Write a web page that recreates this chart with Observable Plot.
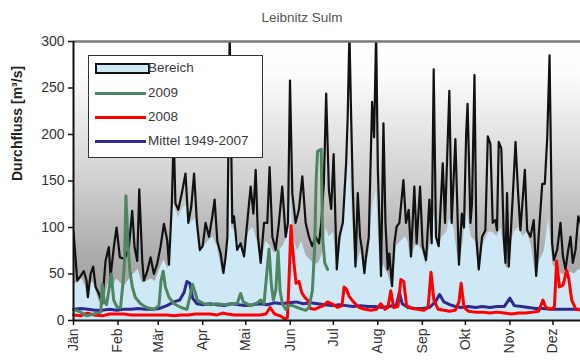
<!DOCTYPE html>
<html>
<head>
<meta charset="utf-8">
<script src="https://cdn.jsdelivr.net/npm/d3@7"></script>
<script src="https://cdn.jsdelivr.net/npm/@observablehq/plot@0.6"></script>
<style>
  html, body { margin: 0; padding: 0; overflow: hidden; background: #fff; }
  #wrap { position: relative; width: 600px; height: 364px; font-family: "Liberation Sans", Arial, sans-serif; }
  #title { position: absolute; left: 0; top: 10px; width: 604px; text-align: center; font-size: 13.5px; color: #555; }
  #legend { position: absolute; left: 88px; top: 55px; width: 173px; height: 101px; background: #fff; border: 1.5px solid #333; }
  .row { position: absolute; left: 0; height: 20px; }
  .sw { position: absolute; left: 6px; width: 51px; }
  .lab { position: absolute; left: 59px; top: 2px; font-size: 13.5px; color: #3a3a3a; white-space: nowrap; }
</style>
</head>
<body>
<div id="wrap">
  <div id="title"></div>
  <div id="chart"></div>
  <div id="legend"></div>
</div>
<script>
// Pegel Leibnitz / Sulm – Tagesdurchfluss [m³/s] über das Kalenderjahr (Tag 0 = 1. Jänner)
const titleText = "Leibnitz Sulm";
const yLabel = "Durchfluss [m³/s]";
const monthNames = ["Jän", "Feb", "Mär", "Apr", "Mai", "Jun", "Jul", "Aug", "Sep", "Okt", "Nov", "Dez"];
const monthStarts = [0, 31, 59, 90, 120, 151, 181, 212, 243, 273, 304, 334];
const yTicks = [0, 50, 100, 150, 200, 250, 300];

const seriesNames = ["Bereich", "2009", "2008", "Mittel 1949-2007"];
const seriesColors = ["#cfe8f6", "#4d8660", "#ff0000", "#2e2990"];

// Bereich: Obergrenze (Höchstwerte) [Tag, m³/s]
const bereichMax = [
  [0,96],[2.6,43],[5,48],[7.2,53],[9.1,43],[10,25],[11.9,50],[13.7,58],[15.4,36],[17.7,29],
  [20,18],[22.3,64],[24.6,79],[25.8,47],[28.1,79],[30,100],[32.3,68],[35.6,66],[38.6,79],[40.9,118],
  [42.5,79],[44.4,64],[45.8,141],[47.9,64],[49,43],[51.4,53],[53.7,68],[56,50],[58.3,61],[60.6,79],
  [63,104],[65.3,86],[66.5,60],[68.5,126],[69.8,200],[71,126],[73,119],[75.5,137],[78,158],[80,105],
  [82,122],[84,158],[86,105],[88,76],[90,80],[92,105],[94.4,90],[96.7,112],[98.3,130],[100.2,85],
  [102.5,72],[104.4,51],[106,69],[107.2,90],[108.8,310],[110.6,105],[111.8,112],[114,76],[116.4,83],[118.8,69],
  [121,105],[123.4,144],[125.3,115],[126.9,162],[128.5,90],[130.4,62],[132.7,105],[135,105],[136.6,165],[138.5,90],
  [140.8,76],[143.1,105],[145.4,144],[147.8,90],[149.4,105],[150.8,258],[152.4,137],[154.7,105],[157,119],[159.4,155],
  [161.7,105],[164,90],[166.3,80],[168.6,90],[171,83],[172.6,105],[174.4,148],[176,244],[177.9,140],[179.5,120],
  [181.2,179],[182.5,105],[183.4,55],[185.2,90],[187.6,105],[189.9,169],[191,219],[192.2,310],[193.4,219],[194.5,144],
  [196.4,58],[198,137],[199.6,90],[201,76],[202.6,51],[203.8,69],[205.7,90],[208,235],[209.4,197],[210.8,310],
  [212,162],[214.2,48],[215.9,212],[217.3,105],[218.9,55],[220,72],[221.9,37],[223.5,83],[225.1,101],[227,105],
  [229.8,151],[231.6,105],[233.5,119],[235.1,69],[237.4,144],[239,83],[241.4,144],[243.2,80],[245.6,65],[247.9,130],
  [249.5,83],[250.9,270],[252.5,90],[254.4,80],[257.2,169],[258.8,105],[261.8,247],[263.4,105],[266,195],[268.5,60],
  [270.5,115],[272,100],[273.5,200],[274.5,233],[276.5,105],[277.6,126],[279.3,264],[280.6,90],[282.3,55],[284.6,90],
  [286.9,97],[288.6,198],[290.4,190],[292,105],[293.9,108],[295,97],[296.2,192],[298,185],[299.7,90],[300.9,62],
  [302,137],[303.2,58],[305,105],[306.7,155],[307.9,192],[309.7,137],[311.3,97],[314.4,162],[316,97],[318.3,90],
  [320.6,108],[322.3,48],[324,90],[326.5,147],[328.3,147],[330,197],[331.6,285],[333.4,83],[334.6,65],[336.9,76],
  [339.2,105],[340.9,69],[342.7,55],[344.6,76],[346.2,90],[347.8,62],[349.7,76],[351.6,112],[353.2,105],[356,80],
  [360,95],[364,70]
];

// Bereich: Fläche [Tag, m³/s]
const bereichFlaeche = [
  [0,40],[3,40],[6,45],[8,38],[10,25],[12,42],[14,40],[16,30],[18,20],[21,15],
  [24,40],[27,35],[30,45],[33,40],[36,38],[39,45],[42,50],[45,55],[48,40],[51,42],
  [54,45],[57,42],[60,55],[63,65],[66,55],[68,120],[70,125],[73,110],[76,120],[79,125],
  [82,105],[85,110],[88,72],[91,80],[94,85],[97,90],[100,80],[102,65],[104,50],[106,65],
  [108,85],[109,200],[110,100],[113,95],[116,80],[119,68],[122,95],[125,100],[128,85],[130.5,60],
  [134,85],[137,80],[140,72],[143,75],[146,80],[149,90],[151,135],[153,90],[156,75],[159,85],
  [162,70],[165,65],[168,60],[171,62],[174,75],[176,100],[178,90],[181,95],[183.5,55],[187,90],
  [190,140],[192,175],[194,120],[196.5,55],[200,75],[202.6,50],[206,75],[208,120],[211,140],[213,75],
  [214.2,45],[216,60],[219,50],[222,35],[225,80],[228,85],[231,90],[233,85],[235,65],[238,80],
  [241,80],[243,75],[245.6,60],[249,85],[251,115],[254,78],[257,90],[260,95],[262,110],[265,100],
  [268.5,58],[271,80],[274,120],[277,90],[280,85],[282.3,52],[285,80],[289,95],[292,95],[295,90],
  [298,100],[301,58],[303.2,55],[305,85],[307,95],[310,100],[313,90],[316,95],[319,80],[322.3,45],
  [325,65],[328,75],[331,110],[334,60],[337,55],[340,50],[343,48],[346,52],[349,50],[352,55],
  [356,50],[360,55],[364,50]
];

// Jahr 2009 (bis Ende Juni)
const jahr2009 = [
  [0,12],[5,9],[9,5],[14,7],[19,9],[20,39],[21.5,20],[23,17],[24.6,32],[26.3,50],
  [28,22],[30.5,14],[32.8,14],[34.6,43],[35.6,64],[36.5,134],[38,80],[39.3,53],[41,36],[43,25],
  [46.7,18],[51,14],[56,12],[59.5,16],[61,43],[62.5,53],[64,36],[66.5,25],[70,18],[75,14],
  [79,12],[81,25],[82.8,39],[85,29],[86.2,22],[90.9,18],[95.5,17],[100,18],[105,17],[109.5,18],
  [114,18],[116.4,29],[118.3,20],[123,16],[128,19],[130.4,22],[132.7,18],[134.6,50],[136.2,77],[137.8,39],
  [139.2,22],[140.9,32],[142.5,75],[143.9,32],[145.5,18],[147.8,12],[150,16],[152.5,16],[156,14],[159.5,12],
  [162,11],[164,14],[166.4,32],[168,79],[169,150],[170,182],[172.5,184],[173.5,90],[175,62],[177,55]
];

// Jahr 2008
const jahr2008 = [
  [0,6],[5,5],[8,7],[10,8],[14,6],[20,5],[25,7],[30,7],[35,7],[40,6],
  [45,6],[50,6],[55,6],[60,6],[65,6],[70,5],[75,6],[80,6],[85,7],[90,7],
  [95,7],[100,6],[104,8],[107,7],[112,6],[118,6],[124,6],[130,6],[134,7],[137,14],
  [140,7],[144,5],[147,2],[149,3],[150,39],[151.5,102],[152.5,79],[154,55],[155,40],[157,42],
  [159,30],[161,25],[163,22],[165,13],[168,12],[171,14],[174,16],[177,20],[180,18],[184,14],
  [187,16],[188.5,36],[190,34],[192,26],[195,20],[199,14],[203,12],[207,11],[211,12],[214,18],
  [217,12],[219,14],[221,32],[223,14],[226,15],[228,44],[230,42],[232,16],[236,13],[240,12],
  [244,11],[247,14],[249,52],[251,22],[254,12],[258,11],[262,10],[266,11],[268.5,20],[270,40],
  [272,14],[275,10],[280,9],[285,9],[290,8],[295,9],[300,8],[305,7],[310,8],[315,8],
  [320,9],[324,10],[327,22],[329,14],[333,12],[335,15],[336.5,64],[338.5,36],[341,38],[343.5,54],
  [345,45],[347,22],[350,12],[354,11],[358,10],[364,10]
];

// Mittel 1949-2007
const mittel = [
  [0,12],[5,13],[10,12],[15,11],[20,11],[25,12],[30,11],[35,12],[40,12],[45,13],
  [50,12],[55,12],[60,13],[65,16],[70,20],[74,22],[77,30],[79,42],[81,40],[83,24],
  [86,18],[90,17],[95,18],[100,17],[105,16],[110,18],[115,17],[120,16],[125,17],[130,18],
  [135,17],[140,19],[145,18],[150,19],[155,20],[160,18],[165,19],[170,18],[175,17],[180,16],
  [185,17],[190,16],[195,15],[200,16],[205,15],[210,15],[215,14],[220,15],[225,17],[227,30],
  [229,18],[233,14],[238,13],[243,13],[248,14],[252,20],[255,28],[258,20],[262,17],[266,15],
  [270,14],[275,15],[280,14],[285,15],[290,14],[295,15],[300,15],[304,24],[307,16],[312,15],
  [317,14],[322,13],[327,13],[332,12],[337,12],[342,12],[347,12],[352,12],[358,12],[364,12]
];

const monthLabel = new Map(monthStarts.map((d, i) => [d, monthNames[i]]));
const X = d => d[0], Y = d => d[1];

const chart = Plot.plot({
  width: 597,
  height: 364,
  marginLeft: 73,
  marginRight: 0,
  marginTop: 41,
  marginBottom: 44,
  style: {
    fontFamily: "Liberation Sans, Arial, sans-serif",
    fontSize: "14px",
    color: "#333",
    background: "transparent",
    maxWidth: "none",
    overflow: "visible"
  },
  x: {domain: [0, 365]},
  y: {domain: [0, 300]},
  marks: [
    Plot.frame({fill: "url(#plotBg)", stroke: "none"}),
    Plot.areaY(bereichFlaeche, {x: X, y: Y, fill: seriesColors[0]}),
    Plot.lineY(bereichMax, {x: X, y: Y, stroke: "#111", strokeWidth: 2.2, clip: true}),
    Plot.lineY(mittel, {x: X, y: Y, stroke: seriesColors[3], strokeWidth: 3}),
    Plot.lineY(jahr2008, {x: X, y: Y, stroke: seriesColors[2], strokeWidth: 3}),
    Plot.lineY(jahr2009, {x: X, y: Y, stroke: seriesColors[1], strokeWidth: 3}),
    Plot.ruleY([300], {stroke: "#7a7a7a", strokeWidth: 2.5}),
    Plot.ruleX([0], {stroke: "#111", strokeWidth: 2}),
    Plot.ruleY([0], {stroke: "#111", strokeWidth: 2}),
    Plot.axisY({ticks: yTicks, tickSize: 5, tickPadding: 4, label: null, stroke: "#111", strokeWidth: 1.5}),
    Plot.axisX({
      ticks: monthStarts,
      tickFormat: d => monthLabel.get(d),
      tickRotate: -90,
      tickSize: 5,
      tickPadding: 3,
      label: null,
      stroke: "#111",
      strokeWidth: 1.5
    }),
    Plot.text([yLabel], {frameAnchor: "left", rotate: -90, dx: -56, fontWeight: "bold", fontSize: 14, fill: "#222"})
  ]
});

// vertical grey gradient behind the plot area
const defs = d3.select(chart).insert("defs", ":first-child");
const grad = defs.append("linearGradient")
  .attr("id", "plotBg").attr("x1", 0).attr("y1", 0).attr("x2", 0).attr("y2", 1);
[[0, "#ffffff"], [0.12, "#fcfcfc"], [0.5, "#d0d0d0"], [0.75, "#aeaeae"], [1, "#9a9a9a"]]
  .forEach(([o, c]) => grad.append("stop").attr("offset", o).attr("stop-color", c));

document.getElementById("chart").appendChild(chart);
document.getElementById("title").textContent = titleText;

// legend box
const legend = d3.select("#legend");
const rowTops = [2, 27, 51, 75];
seriesNames.forEach((name, i) => {
  const row = legend.append("div").attr("class", "row").style("top", rowTops[i] + "px").style("width", "170px");
  const sw = row.append("div").attr("class", "sw");
  if (i === 0) {
    sw.style("top", "5px").style("height", "7px")
      .style("background", seriesColors[0]).style("border", "2px solid #111");
  } else {
    sw.style("top", "9px").style("height", "3px").style("width", "51px").style("background", seriesColors[i]);
  }
  row.append("div").attr("class", "lab").text(name);
});
</script>
</body>
</html>
